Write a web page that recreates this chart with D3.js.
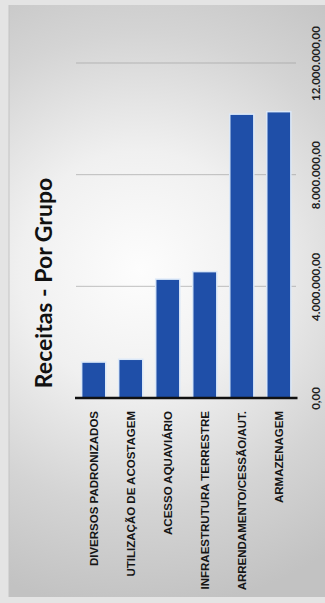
<!DOCTYPE html>
<html>
<head>
<meta charset="utf-8">
<script src="https://cdn.jsdelivr.net/npm/d3@7"></script>
<style>
  html, body { margin: 0; padding: 0; background: #d6d6d6; }
  svg { display: block; }
</style>
</head>
<body>
<svg id="chart" width="325" height="603"></svg>
<script>
// Receitas por grupo (R$)
const categories = [
  "DIVERSOS PADRONIZADOS",
  "UTILIZAÇÃO DE ACOSTAGEM",
  "ACESSO AQUAVIÁRIO",
  "INFRAESTRUTURA TERRESTRE",
  "ARRENDAMENTO/CESSÃO/AUT.",
  "ARMAZENAGEM"
];
const receitas = [1260000, 1360000, 4230000, 4500000, 10140000, 10230000];
const tickValues = [0, 4000000, 8000000, 12000000];
const tickLabels = ["0,00", "4.000.000,00", "8.000.000,00", "12.000.000,00"];
const title = "Receitas - Por Grupo";

const svg = d3.select("#chart");
const W = 325, H = 603;

// background: grey sheet lit from the centre-left
const defs = svg.append("defs");
const rg = defs.append("radialGradient").attr("id", "sheet")
  .attr("gradientUnits", "userSpaceOnUse")
  .attr("cx", 140).attr("cy", 270).attr("r", 340);
rg.append("stop").attr("offset", "0").attr("stop-color", "#fdfdfd");
rg.append("stop").attr("offset", "0.35").attr("stop-color", "#f0f0f0");
rg.append("stop").attr("offset", "0.7").attr("stop-color", "#d4d4d4");
rg.append("stop").attr("offset", "1").attr("stop-color", "#c2c2c2");

svg.append("rect").attr("width", W).attr("height", H).attr("fill", "#e4e4e4");
svg.append("rect").attr("x", 9).attr("y", 5).attr("width", W - 9).attr("height", H - 11)
  .attr("fill", "url(#sheet)");
svg.append("line").attr("x1", 9).attr("x2", 9).attr("y1", 5).attr("y2", H - 6)
  .attr("stroke", "#c4c4c4").attr("stroke-width", 1);

// scales
const x = d3.scaleBand().domain(categories).range([75, 297.5])
  .paddingInner(0.39).paddingOuter(0.2);
const y = d3.scaleLinear().domain([0, 12000000]).range([398, 63]);

// gridlines
svg.append("g").selectAll("line").data(tickValues.slice(1)).join("line")
  .attr("x1", 76).attr("x2", 296)
  .attr("y1", d => y(d)).attr("y2", d => y(d))
  .attr("stroke", "#999").attr("stroke-width", 0.9).attr("opacity", 0.65);

// bars with a pale halo
const bars = svg.append("g");
bars.selectAll("rect.halo").data(receitas).join("rect").attr("class", "halo")
  .attr("x", (d, i) => x(categories[i]) - 1.5)
  .attr("y", d => y(d) - 1.5)
  .attr("width", x.bandwidth() + 3)
  .attr("height", d => y(0) - y(d) + 1.5)
  .attr("fill", "#dbe8f8");
bars.selectAll("rect.bar").data(receitas).join("rect").attr("class", "bar")
  .attr("x", (d, i) => x(categories[i]))
  .attr("y", d => y(d))
  .attr("width", x.bandwidth())
  .attr("height", d => y(0) - y(d))
  .attr("fill", "#1f4fa8");

// baseline
svg.append("line").attr("x1", 75).attr("x2", 297.5)
  .attr("y1", y(0)).attr("y2", y(0))
  .attr("stroke", "#111").attr("stroke-width", 2.5);

// value axis (labels rotated, reading upwards)
const axis = d3.axisRight(y).tickValues(tickValues)
  .tickFormat((d, i) => tickLabels[i]).tickSize(0);
const ag = svg.append("g").attr("transform", "translate(315,0)").call(axis);
ag.select(".domain").remove();
ag.selectAll(".tick text")
  .attr("x", 0).attr("y", 0).attr("dy", null)
  .attr("transform", "rotate(-90)")
  .attr("text-anchor", "middle")
  .attr("dominant-baseline", "central")
  .attr("font-family", "Lato, 'Open Sans', sans-serif")
  .attr("font-weight", "bold")
  .attr("font-size", 11.5)
  .attr("fill", "#1e1e1e");

// category labels
svg.append("g").selectAll("text").data(categories).join("text")
  .attr("transform", d => `translate(${x(d) + x.bandwidth() / 2},411) rotate(-90)`)
  .attr("text-anchor", "end")
  .attr("dominant-baseline", "central")
  .attr("font-family", "'Liberation Sans Narrow', 'Arial Narrow', sans-serif")
  .attr("font-weight", "bold")
  .attr("font-size", 11.5)
  .attr("fill", "#151515")
  .text(d => d);

// title
svg.append("text")
  .attr("transform", "translate(43,283) rotate(-90)")
  .attr("text-anchor", "middle")
  .attr("dominant-baseline", "central")
  .attr("font-family", "Lato, 'Open Sans', sans-serif")
  .attr("font-weight", "bold")
  .attr("font-size", 23)
  .attr("fill", "#111")
  .text(title);
</script>
</body>
</html>
